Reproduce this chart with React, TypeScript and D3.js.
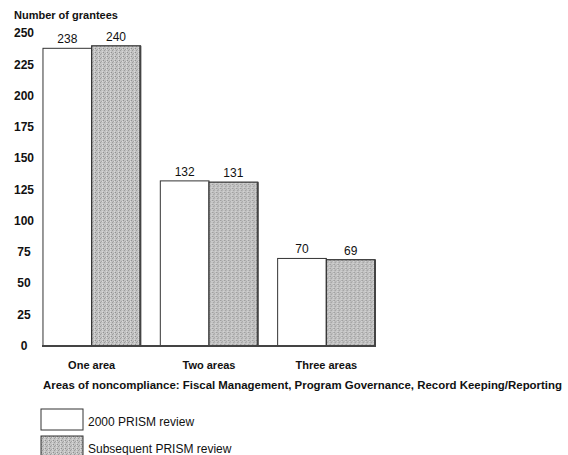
import React from "react";
import * as d3 from "d3";

const categories = ["One area", "Two areas", "Three areas"];
const seriesNames = ["2000 PRISM review", "Subsequent PRISM review"];
const review2000 = [238, 132, 70];
const subsequentReview = [240, 131, 69];
const yTicks = [0, 25, 50, 75, 100, 125, 150, 175, 200, 225, 250];

const W = 568;
const H = 455;
const FONT = "'Liberation Sans', Arial, Helvetica, sans-serif";

export default function App() {
  const x0 = d3
    .scaleBand<string>()
    .domain(categories)
    .range([33, 385])
    .paddingInner(0.17)
    .paddingOuter(0.085);
  const x1 = d3
    .scaleBand<string>()
    .domain(seriesNames)
    .range([0, x0.bandwidth()])
    .padding(0);
  const y = d3.scaleLinear().domain([0, 250]).range([346, 33.3]);

  const series = [review2000, subsequentReview];
  const fills = ["#ffffff", "url(#stipple)"];

  return (
    <svg
      width={W}
      height={H}
      style={{ position: "absolute", left: 0, top: 0, background: "#fff" }}
      fontFamily={FONT}
    >
      <defs>
        <pattern id="stipple" width="4" height="4" patternUnits="userSpaceOnUse">
          <rect width="4" height="4" fill="#c2c2c2" />
          <rect x="0" y="0" width="1" height="1" fill="#8f8f8f" />
          <rect x="2" y="1" width="1" height="1" fill="#a3a3a3" />
          <rect x="1" y="2" width="1" height="1" fill="#9a9a9a" />
          <rect x="3" y="3" width="1" height="1" fill="#d8d8d8" />
          <rect x="3" y="1" width="1" height="1" fill="#dcdcdc" />
        </pattern>
      </defs>

      <text x={14} y={19} fontSize={11} fontWeight="bold" fill="#111">
        Number of grantees
      </text>

      {yTicks.map((t) => (
        <text
          key={t}
          x={24}
          y={y(t) + 4}
          fontSize={12}
          fontWeight="bold"
          textAnchor="middle"
          fill="#111"
        >
          {t}
        </text>
      ))}

      {categories.map((c, ci) => (
        <g key={c} transform={`translate(${x0(c)},0)`}>
          {series.map((s, si) => {
            const bx = x1(seriesNames[si])!;
            const bw = x1.bandwidth();
            const top = y(s[ci]);
            return (
              <g key={si}>
                <rect
                  x={bx}
                  y={top}
                  width={bw}
                  height={y(0) - top}
                  fill={fills[si]}
                  stroke="#333"
                  strokeWidth={si === 0 ? 1 : 1.2}
                />
                {si === 1 && (
                  <line
                    x1={bx + bw}
                    x2={bx + bw}
                    y1={top}
                    y2={y(0)}
                    stroke="#444"
                    strokeWidth={2}
                  />
                )}
                <text
                  x={bx + bw / 2}
                  y={top - 5}
                  fontSize={12}
                  textAnchor="middle"
                  fill="#111"
                >
                  {s[ci]}
                </text>
              </g>
            );
          })}
          <text
            x={x0.bandwidth() / 2}
            y={369}
            fontSize={11}
            fontWeight="bold"
            textAnchor="middle"
            fill="#111"
          >
            {c}
          </text>
        </g>
      ))}

      <line x1={42} x2={376} y1={y(0)} y2={y(0)} stroke="#444" strokeWidth={2} />

      <text
        x={43}
        y={389}
        fontSize={11}
        fontWeight="bold"
        fill="#111"
        textLength={519}
        lengthAdjust="spacingAndGlyphs"
      >
        Areas of noncompliance: Fiscal Management, Program Governance, Record Keeping/Reporting
      </text>

      {seriesNames.map((n, i) => (
        <g key={n} transform={`translate(41,${409 + i * 27})`}>
          <rect
            x={0}
            y={0}
            width={42}
            height={21}
            fill={fills[i]}
            stroke="#333"
            strokeWidth={1}
          />
          <text x={47} y={17} fontSize={12} fill="#111">
            {n}
          </text>
        </g>
      ))}
    </svg>
  );
}
